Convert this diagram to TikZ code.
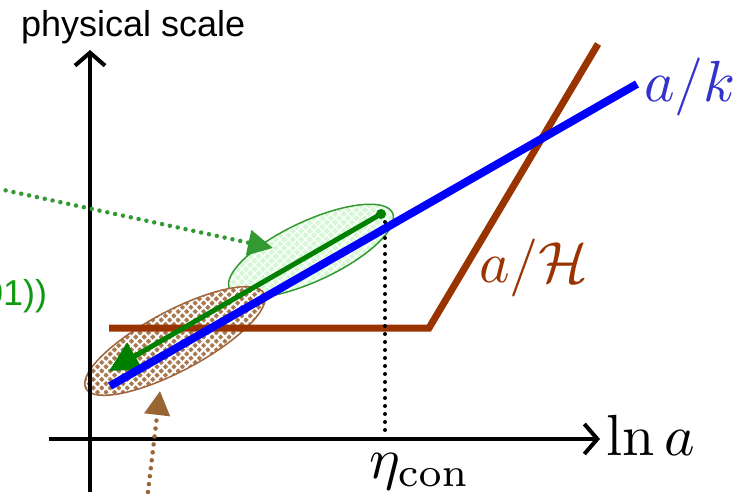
\documentclass[tikz,border=0pt]{standalone}
\usepackage[no-math]{fontspec}
\newfontfamily\arialfont{Liberation Sans}
\usetikzlibrary{arrows.meta,patterns,patterns.meta}
\definecolor{hbrown}{HTML}{993300}
\definecolor{kblue}{HTML}{0000FF}
\definecolor{klabel}{HTML}{3333CC}
\definecolor{garrow}{HTML}{008000}
\definecolor{gdot}{HTML}{339933}
\definecolor{gfill}{HTML}{D6F7D6}
\definecolor{bfill}{HTML}{A87850}
\definecolor{bedge}{HTML}{A0643C}
\definecolor{bdot}{HTML}{996633}
\definecolor{gtext}{HTML}{119911}
\tikzset{
  axis/.style={line width=4pt, -{Straight Barb[length=13pt,width=30pt,line width=4pt]}},
  dotline/.style={line width=#1, line cap=round, dash pattern=on 0pt off 8pt},
  mathlbl/.style={inner sep=0pt, scale=5.8},
}
\begin{document}
\begin{tikzpicture}[x=1pt,y=-1pt]
\useasboundingbox (0,0) rectangle (754,494);
\clip (0,0) rectangle (754,494);
% ellipses
\coordinate (gc) at (311,251);
\coordinate (bc) at (175,341);
\fill[gfill, rotate around={25:(gc)}] (gc) ellipse [x radius=90pt, y radius=30pt];
\path[pattern={Lines[angle=45,distance=6pt,line width=1.2pt]}, pattern color=white, rotate around={25:(gc)}] (gc) ellipse [x radius=90pt, y radius=30pt];
\path[pattern={Lines[angle=-45,distance=6pt,line width=1.2pt]}, pattern color=white, rotate around={25:(gc)}] (gc) ellipse [x radius=90pt, y radius=30pt];
\draw[gdot, line width=1.5pt, rotate around={25:(gc)}] (gc) ellipse [x radius=90pt, y radius=30pt];
\fill[bfill, rotate around={28:(bc)}] (bc) ellipse [x radius=101pt, y radius=30pt];
\path[pattern={Lines[angle=45,distance=6pt,line width=2pt]}, pattern color=white, rotate around={28:(bc)}] (bc) ellipse [x radius=101pt, y radius=30pt];
\path[pattern={Lines[angle=-45,distance=6pt,line width=2pt]}, pattern color=white, rotate around={28:(bc)}] (bc) ellipse [x radius=101pt, y radius=30pt];
\draw[bedge, line width=1.5pt, rotate around={28:(bc)}] (bc) ellipse [x radius=101pt, y radius=30pt];
% axes
\coordinate (o1) at (90,492);
\coordinate (yt) at (90,50);
\coordinate (o2) at (49,439);
\coordinate (xt) at (600,439);
\draw[axis] (o1) -- (yt);
\draw[axis] (o2) -- (xt);
\node[anchor=base west, inner sep=0pt, font=\arialfont\fontsize{36}{40}\selectfont] (ylab) at (21,37) {physical scale};
\node[mathlbl, anchor=base west] (xlab) at (605,455) {$\ln a$};
% a/H line
\coordinate (h1) at (109,328);
\coordinate (h2) at (429,328);
\coordinate (h3) at (598,44);
\draw[hbrown, line width=7pt] (h1) -- (h2) -- (h3);
\node[mathlbl, anchor=base west, text=hbrown] (hlab) at (478,282) {$a/\mathcal{H}$};
% dotted eta
\coordinate (et) at (385,222);
\coordinate (eb) at (385,436);
\draw[black, dotline=4pt] (et) -- (eb);
\node[mathlbl, anchor=base west] (eta) at (368,478) {$\eta_{\mathrm{con}}$};
% green arrow
\coordinate (gs) at (381,214);
\coordinate (ge) at (109,371);
\fill[garrow] (gs) circle (5pt);
\draw[garrow, line width=5pt, -{Triangle[length=30pt,width=30pt]}] (gs) -- (ge);
% a/k line
\coordinate (k1) at (110,386);
\coordinate (k2) at (637,84);
\draw[kblue, line width=8pt] (k1) -- (k2);
\node[mathlbl, anchor=base west, text=klabel] (klab) at (643,102) {$a/k$};
% dotted pointers
\coordinate (gp0) at (-10,187);
\coordinate (gp1) at (273,248);
\draw[gdot, dotline=4.5pt, -{Triangle[length=25pt,width=25pt,line cap=butt]}] (gp0) -- (gp1);
\coordinate (bp0) at (147,500);
\coordinate (bp1) at (160,391);
\draw[bdot, dotline=4.5pt, -{Triangle[length=24pt,width=25pt,line cap=butt]}] (bp0) -- (bp1);
% clipped label
\node[anchor=base west, inner sep=0pt, text=gtext, font=\arialfont\fontsize{36}{38}\selectfont] (olab) at (-17,305) {01))};
\end{tikzpicture}
\end{document}
